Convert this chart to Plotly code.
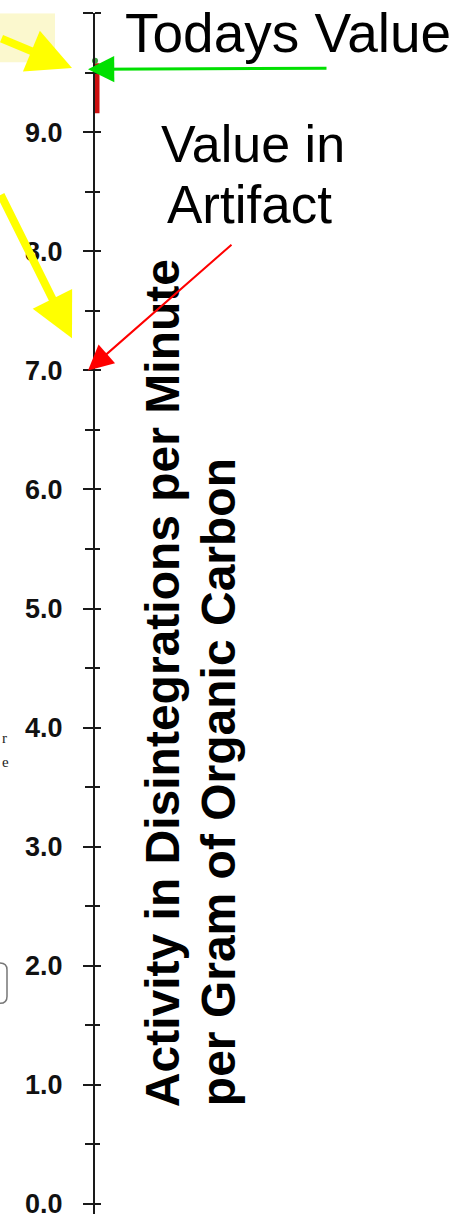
import plotly.graph_objects as go

# ---- data ----
tick_values = [0, 1, 2, 3, 4, 5, 6, 7, 8, 9, 10]
tick_labels = ["0.0", "1.0", "2.0", "3.0", "4.0", "5.0", "6.0", "7.0", "8.0", "9.0", "10.0"]
todays_value = 9.53
artifact_value = 7.0
curve_values = [9.58, 9.16]          # red trace segment near the axis top
curve_marker = [9.60]                # green marker at its top
callout_values = [9.54, 7.27]        # where the yellow call-out arrows point
title_line1 = "Activity in Disintegrations per Minute"
title_line2 = "per Gram of Organic Carbon"

W, H = 463, 1225
AX_X = 94                      # x position of the value axis (pixels)
TOP, BOT = 13.3, 1219          # pixel rows of 10.0 and axis end
PX_PER_UNIT = 119.54
y_min = -(BOT - (TOP + 10 * PX_PER_UNIT)) / PX_PER_UNIT
dom = [(H - BOT) / H, 1 - TOP / H]

FONT = "Arial, Liberation Sans, sans-serif"
INK = "#1a1a1a"

fig = go.Figure()

fig.add_trace(go.Scatter(x=[AX_X + 3] * len(curve_values), y=curve_values, mode="lines",
                         line=dict(color="#cc1010", width=5), showlegend=False, hoverinfo="skip"))
fig.add_trace(go.Scatter(x=[AX_X + 1] * len(curve_marker), y=curve_marker, mode="markers",
                         marker=dict(color="#3fa040", size=6), showlegend=False, hoverinfo="skip"))
fig.add_trace(go.Scatter(x=[AX_X], y=[5], yaxis="y2", mode="markers", marker=dict(opacity=0),
                         showlegend=False, hoverinfo="skip"))
fig.add_trace(go.Scatter(x=[0], y=[0], yaxis="y3", mode="markers", marker=dict(opacity=0),
                         showlegend=False, hoverinfo="skip"))

common = dict(range=[y_min, 10], domain=dom, anchor="free", position=AX_X / W,
              tickvals=tick_values, ticktext=tick_labels, showgrid=False, zeroline=False,
              tickcolor=INK, tickwidth=2, fixedrange=True)

fig.update_layout(
    width=W, height=H,
    margin=dict(l=0, r=0, t=0, b=0),
    paper_bgcolor="white", plot_bgcolor="rgba(0,0,0,0)",
    hovermode=False,
    xaxis=dict(range=[0, W], visible=False, fixedrange=True),
    yaxis=dict(**common, side="left", ticks="outside", ticklen=10,
               showline=True, linecolor=INK, linewidth=2,
               ticklabelstandoff=15,
               tickfont=dict(family=FONT, size=27, color="#111", weight="bold"),
               minor=dict(dtick=0.5, ticks="outside", ticklen=8, tickcolor=INK, tickwidth=2)),
    yaxis2=dict(**common, side="right", overlaying="y", ticks="outside", ticklen=6,
                showline=False, showticklabels=False,
                minor=dict(dtick=0.5, ticks="outside", ticklen=5, tickcolor=INK, tickwidth=2)),
    yaxis3=dict(range=[H, 0], domain=[0, 1], overlaying="y", anchor="x", visible=False, fixedrange=True),
)

# pale yellow highlight top-left
fig.add_shape(type="rect", xref="x", yref="y3", x0=0, x1=55, y0=0, y1=50,
              fillcolor="rgba(250,246,190,0.75)", line=dict(width=0), layer="below")
# partial rounded box at left edge near 2.0
fig.add_shape(type="path", xref="x", yref="y3",
              path="M -20 969 L 0 969 Q 7 969 7 976 L 7 1003 Q 7 1010 0 1010 L -20 1010",
              line=dict(color="#777", width=1.5))

# Text annotations
fig.add_annotation(xref="x", yref="y3", x=288, y=20, text="Todays Value", showarrow=False,
                   font=dict(family=FONT, size=55, color="black"), xanchor="center", yanchor="middle")
fig.add_annotation(xref="x", yref="y3", x=253, y=133, text="Value in", showarrow=False,
                   font=dict(family=FONT, size=52, color="black"), xanchor="center", yanchor="middle")
fig.add_annotation(xref="x", yref="y3", x=249, y=195, text="Artifact", showarrow=False,
                   font=dict(family=FONT, size=53, color="black"), xanchor="center", yanchor="middle")

# rotated axis title (two lines, bottom aligned)
fig.add_annotation(xref="x", yref="y3", x=162, y=1118, text=title_line1, showarrow=False, textangle=-90,
                   font=dict(family=FONT, size=48, color="black", weight="bold"),
                   xanchor="center", yanchor="bottom")
fig.add_annotation(xref="x", yref="y3", x=218, y=1117, text=title_line2, showarrow=False, textangle=-90,
                   font=dict(family=FONT, size=48, color="black", weight="bold"),
                   xanchor="center", yanchor="bottom")

# small text fragments at left edge
fig.add_annotation(xref="x", yref="y3", x=0, y=739, text="r", showarrow=False, xanchor="left",
                   yanchor="middle", font=dict(family="Liberation Serif, serif", size=15, color="#222"))
fig.add_annotation(xref="x", yref="y3", x=0, y=764, text="e", showarrow=False, xanchor="left",
                   yanchor="middle", font=dict(family="Liberation Serif, serif", size=15, color="#222"))

# arrows
fig.add_annotation(xref="x", yref="y", x=88, y=todays_value, ax=240, ay=-1, text="",
                   showarrow=True, arrowhead=2, arrowsize=1.75, arrowwidth=3, arrowcolor="#00e000", standoff=0)
fig.add_annotation(xref="x", yref="y", x=88, y=artifact_value, ax=145, ay=-127, text="",
                   showarrow=True, arrowhead=2, arrowsize=2.5, arrowwidth=2, arrowcolor="#ff0000", standoff=0)
fig.add_annotation(xref="x", yref="y", x=72, y=callout_values[0], ax=-72, ay=-30, text="",
                   showarrow=True, arrowhead=2, arrowsize=1.1, arrowwidth=8, arrowcolor="#ffff00", standoff=0)
fig.add_annotation(xref="x", yref="y", x=72, y=callout_values[1], ax=-72, ay=-145, text="",
                   showarrow=True, arrowhead=2, arrowsize=1.1, arrowwidth=8, arrowcolor="#ffff00", standoff=0)

fig.write_html("out.html", config={"displayModeBar": False, "staticPlot": True},
               post_script="document.body.style.margin='0';")
